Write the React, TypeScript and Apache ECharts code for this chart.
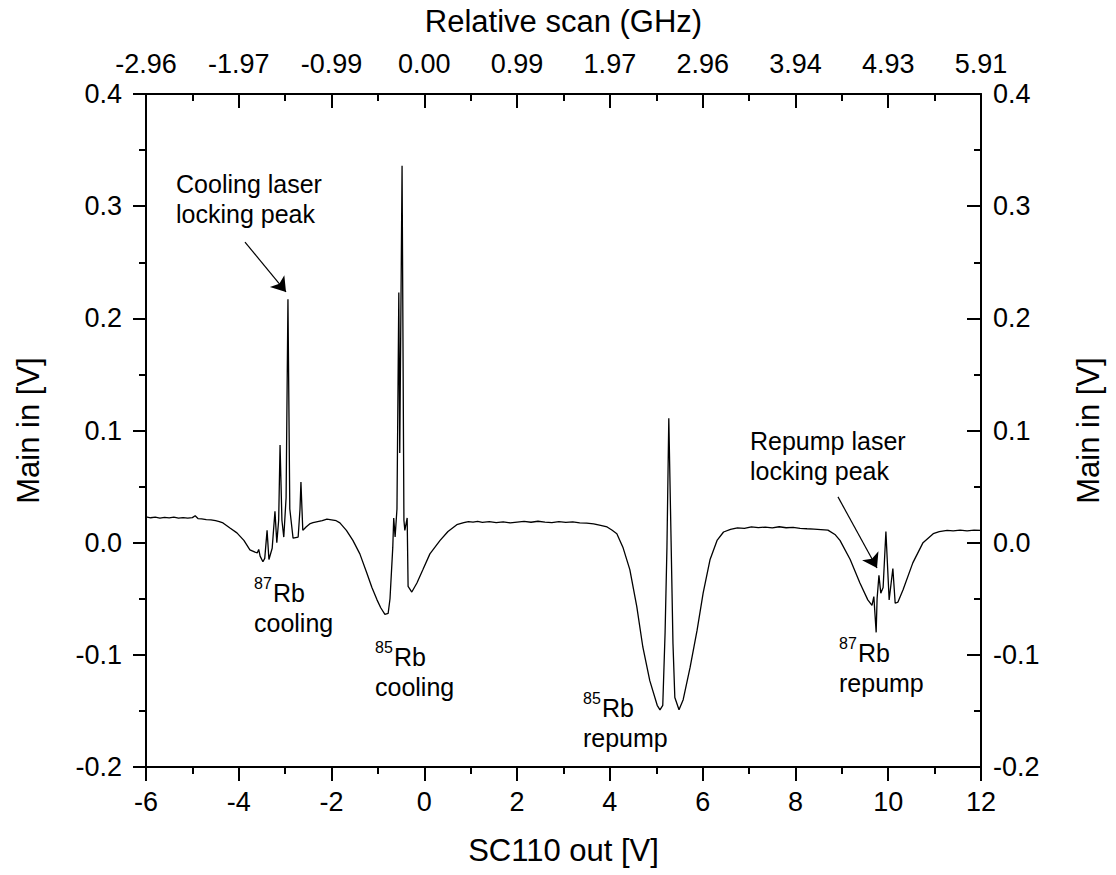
import React, { useEffect, useRef } from "react";
import * as echarts from "echarts";

const FONT = "'Liberation Sans', Arial, sans-serif";

// Spectrum trace: [SC110 out (V), Main in (V)]
const trace: [number, number][] = [
  [-6.0, 0.023], [-5.9, 0.0222], [-5.8, 0.0228], [-5.7, 0.0219], [-5.6, 0.0226], [-5.5, 0.0221], [-5.4, 0.0227],
  [-5.3, 0.0218], [-5.2, 0.0224], [-5.1, 0.0219], [-5.0, 0.0223], [-4.94, 0.024], [-4.88, 0.0215], [-4.8, 0.0212],
  [-4.7, 0.0206], [-4.6, 0.0203], [-4.5, 0.0196], [-4.42, 0.0188], [-4.34, 0.0176], [-4.19, 0.013], [-4.04, 0.0087],
  [-3.89, 0.002], [-3.76, -0.0065], [-3.65, -0.0085], [-3.6, -0.009], [-3.57, -0.006], [-3.54, -0.012],
  [-3.48, -0.017], [-3.44, -0.014], [-3.39, 0.011], [-3.35, -0.015], [-3.28, -0.005], [-3.22, 0.028],
  [-3.18, 0.0], [-3.14, 0.02], [-3.11, 0.087], [-3.07, 0.02], [-3.03, 0.005], [-2.98, 0.04], [-2.94, 0.217],
  [-2.9, 0.03], [-2.83, 0.004], [-2.72, 0.005], [-2.68, 0.03], [-2.66, 0.054], [-2.62, 0.011], [-2.55, 0.014],
  [-2.46, 0.017], [-2.4, 0.0178], [-2.3, 0.0188], [-2.2, 0.0196], [-2.1, 0.021], [-2.0, 0.0203], [-1.9, 0.0196],
  [-1.82, 0.0176], [-1.68, 0.011], [-1.54, 0.002], [-1.39, -0.01], [-1.24, -0.027], [-1.13, -0.04],
  [-1.02, -0.051], [-0.94, -0.058], [-0.85, -0.064], [-0.78, -0.063], [-0.74, -0.05], [-0.68, -0.004],
  [-0.66, 0.022], [-0.63, 0.005], [-0.59, 0.03], [-0.55, 0.223], [-0.53, 0.08], [-0.48, 0.336], [-0.44, 0.02],
  [-0.42, 0.011], [-0.37, 0.022], [-0.35, -0.039], [-0.27, -0.044], [-0.16, -0.036], [-0.03, -0.024],
  [0.12, -0.01], [0.34, 0.002], [0.51, 0.01], [0.7, 0.016], [0.85, 0.0178], [0.95, 0.0188], [1.05, 0.0183],
  [1.15, 0.019], [1.25, 0.0181], [1.4, 0.0187], [1.55, 0.0179], [1.7, 0.0186], [1.85, 0.0177], [2.0, 0.0184],
  [2.15, 0.0189], [2.3, 0.0182], [2.45, 0.0191], [2.6, 0.0184], [2.75, 0.0179], [2.9, 0.0187], [3.05, 0.018],
  [3.2, 0.0185], [3.35, 0.0176], [3.5, 0.0174], [3.65, 0.0168], [3.8, 0.0155], [3.94, 0.014], [4.05, 0.011],
  [4.15, 0.008], [4.28, -0.004], [4.43, -0.024], [4.58, -0.057], [4.71, -0.093], [4.86, -0.123], [5.02, -0.145],
  [5.08, -0.149], [5.14, -0.145], [5.19, -0.08], [5.23, -0.004], [5.27, 0.111], [5.32, 0.0], [5.36, -0.09],
  [5.4, -0.138], [5.49, -0.149], [5.58, -0.14], [5.73, -0.111], [5.88, -0.078], [6.01, -0.045], [6.16, -0.015],
  [6.31, 0.002], [6.45, 0.0095], [6.6, 0.0118], [6.75, 0.0132], [6.9, 0.0127], [7.05, 0.0141], [7.2, 0.0134],
  [7.35, 0.0139], [7.5, 0.0131], [7.65, 0.0142], [7.8, 0.0133], [7.95, 0.0137], [8.1, 0.0128], [8.25, 0.0124],
  [8.4, 0.0121], [8.55, 0.0117], [8.7, 0.0112], [8.86, 0.007], [8.96, 0.002], [9.18, -0.015], [9.39, -0.036],
  [9.56, -0.051], [9.65, -0.056], [9.69, -0.048], [9.74, -0.08], [9.76, -0.05], [9.8, -0.029], [9.84, -0.045],
  [9.89, -0.04], [9.95, 0.01], [10.02, -0.051], [10.1, -0.023], [10.15, -0.054], [10.21, -0.053], [10.32, -0.042],
  [10.53, -0.018], [10.75, 0.0], [10.97, 0.008], [11.1, 0.0098], [11.27, 0.011], [11.4, 0.0105], [11.55, 0.0112],
  [11.7, 0.0106], [11.85, 0.0111], [12.0, 0.011],
];

const topTickLabels = ["-2.96", "-1.97", "-0.99", "0.00", "0.99", "1.97", "2.96", "3.94", "4.93", "5.91"];

// annotation anchors: left edge / first-line baseline, in data coordinates
const annoX = [-5.353, 7.02, -3.672, -1.0635, 3.42, 8.939];
const annoY = [0.3118, 0.0826, -0.0529, -0.1099, -0.1554, -0.1064];
const annoSup = ["", "", "87", "85", "85", "87"];
const annoLine1 = ["Cooling laser", "Repump laser", "Rb", "Rb", "Rb", "Rb"];
const annoLine2 = ["locking peak", "locking peak", "cooling", "cooling", "repump", "repump"];

// arrows (start -> end) in data coordinates
const arrowFrom = [[-3.866, 0.268], [8.917, 0.0408]];
const arrowTo = [[-2.982, 0.2235], [9.758, -0.0226]];

const axisCommon = {
  type: "value" as const,
  axisLine: { show: true, onZero: false, lineStyle: { color: "#000", width: 2 } },
  splitLine: { show: false },
};

const TICK_FS = 27;
const TITLE_FS = 31;

export default function App() {
  const ref = useRef<HTMLDivElement>(null);
  useEffect(() => {
    const chart = echarts.init(ref.current!, null, { renderer: "svg" });
    const option: any = {
      animation: false,
      backgroundColor: "#fff",
      textStyle: { fontFamily: FONT },
      grid: { left: 146, right: 135, top: 94, bottom: 108, containLabel: false, outerBoundsMode: "none" },
      xAxis: [
        {
          ...axisCommon,
          position: "bottom",
          min: -6,
          max: 12,
          interval: 2,
          name: "SC110 out [V]",
          nameLocation: "middle",
          nameGap: 68,
          nameTextStyle: { fontSize: TITLE_FS, fontFamily: FONT, color: "#000" },
          axisTick: { show: true, inside: false, length: 14, lineStyle: { color: "#000", width: 2 } },
          minorTick: { show: true, splitNumber: 2, length: 7, lineStyle: { color: "#000", width: 2 } },
          axisLabel: { fontSize: TICK_FS, fontFamily: FONT, color: "#000", margin: 21 },
        },
        {
          ...axisCommon,
          position: "top",
          min: -6,
          max: 12,
          interval: 2,
          name: "Relative scan (GHz)",
          nameLocation: "middle",
          nameGap: 57,
          nameTextStyle: { fontSize: TITLE_FS, fontFamily: FONT, color: "#000" },
          axisTick: { show: true, inside: true, length: 14, lineStyle: { color: "#000", width: 2 } },
          minorTick: { show: true, splitNumber: 2, length: 7, lineStyle: { color: "#000", width: 2 } },
          axisLabel: {
            fontSize: TICK_FS,
            fontFamily: FONT,
            color: "#000",
            margin: 17,
            formatter: (v: number) => topTickLabels[Math.round((v + 6) / 2)] ?? "",
          },
        },
      ],
      yAxis: [
        {
          ...axisCommon,
          position: "left",
          min: -0.2,
          max: 0.4,
          interval: 0.1,
          name: "Main in [V]",
          nameLocation: "middle",
          nameGap: 102,
          nameTextStyle: { fontSize: TITLE_FS, fontFamily: FONT, color: "#000" },
          axisTick: { show: true, inside: false, length: 13, lineStyle: { color: "#000", width: 2 } },
          minorTick: { show: true, splitNumber: 2, length: 7, lineStyle: { color: "#000", width: 2 } },
          axisLabel: {
            fontSize: TICK_FS,
            fontFamily: FONT,
            color: "#000",
            margin: 24,
            formatter: (v: number) => v.toFixed(1),
          },
        },
        {
          ...axisCommon,
          position: "right",
          min: -0.2,
          max: 0.4,
          interval: 0.1,
          name: "Main in [V]",
          nameLocation: "middle",
          nameGap: 92,
          nameTextStyle: { fontSize: TITLE_FS, fontFamily: FONT, color: "#000" },
          axisTick: { show: true, inside: true, length: 14, lineStyle: { color: "#000", width: 2 } },
          minorTick: { show: true, splitNumber: 2, length: 7, lineStyle: { color: "#000", width: 2 } },
          axisLabel: {
            fontSize: TICK_FS,
            fontFamily: FONT,
            color: "#000",
            margin: 12,
            formatter: (v: number) => v.toFixed(1),
          },
        },
      ],
      series: [
        {
          type: "line",
          xAxisIndex: 0,
          yAxisIndex: 0,
          data: trace,
          showSymbol: false,
          symbol: "none",
          lineStyle: { color: "#000", width: 1.3 },
          markLine: {
            silent: true,
            animation: false,
            symbol: ["none", "arrow"],
            symbolSize: 14,
            label: { show: false },
            lineStyle: { color: "#000", width: 1.2, type: "solid" },
            itemStyle: { color: "#000" },
            emphasis: { disabled: true },
            data: arrowFrom.map((f, i) => [{ coord: f }, { coord: arrowTo[i] }]),
          },
        },
      ],
    };
    chart.setOption(option);

    const graphics: any[] = [];
    const mainFs = 25;
    const supFs = 16;
    const lineGap = 30;
    annoX.forEach((ax, i) => {
      const p = chart.convertToPixel({ gridIndex: 0 }, [ax, annoY[i]]) as number[];
      const left = p[0];
      const base = p[1];
      const mid = base - 0.35 * mainFs;
      let x1 = left;
      if (annoSup[i]) {
        graphics.push({
          type: "text",
          x: left,
          y: base - 13 - 0.35 * supFs,
          style: { text: annoSup[i], fontSize: supFs, fontFamily: FONT, fill: "#000", align: "left", verticalAlign: "middle" },
        });
        x1 = left + 19;
      }
      graphics.push({
        type: "text",
        x: x1,
        y: mid,
        style: { text: annoLine1[i], fontSize: mainFs, fontFamily: FONT, fill: "#000", align: "left", verticalAlign: "middle" },
      });
      graphics.push({
        type: "text",
        x: left,
        y: mid + lineGap,
        style: { text: annoLine2[i], fontSize: mainFs, fontFamily: FONT, fill: "#000", align: "left", verticalAlign: "middle" },
      });
    });
    chart.setOption({ graphic: graphics });

    return () => chart.dispose();
  }, []);
  return <div ref={ref} style={{ position: "fixed", left: 0, top: 0, width: 1116, height: 875 }} />;
}
